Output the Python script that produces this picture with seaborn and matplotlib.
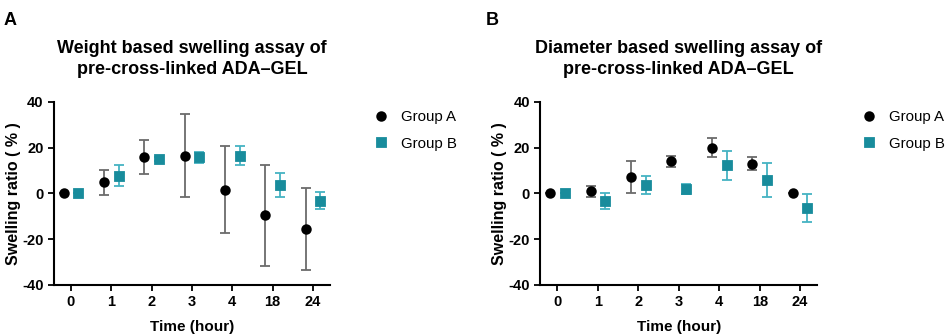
import numpy as np
import pandas as pd
import matplotlib.pyplot as plt
import seaborn as sns

# Data (mean and SD, % swelling)
times = ['0', '1', '2', '3', '4', '18', '24']

weight_a = [0, 4.9, 16.0, 16.5, 1.6, -9.6, -15.5]
weight_a_sd = [0, 5.4, 7.4, 18.0, 19.0, 22.0, 18.0]
weight_b = [0, 7.8, 15.0, 15.8, 16.5, 3.5, -3.2]
weight_b_sd = [0, 4.5, 0.8, 2.4, 4.0, 5.2, 3.8]

diam_a = [0, 0.9, 7.0, 14.0, 20.0, 12.9, 0]
diam_a_sd = [0, 2.5, 7.0, 2.4, 4.1, 2.9, 0]
diam_b = [0, -3.5, 3.7, 1.9, 12.2, 6.0, -6.3]
diam_b_sd = [0, 3.5, 3.9, 2.2, 6.3, 7.4, 6.1]

titles = ['Weight based swelling assay of\npre-cross-linked ADA\u2013GEL',
          'Diameter based swelling assay of\npre-cross-linked ADA\u2013GEL']

sns.set_style('ticks')
plt.rcParams['font.family'] = ['Liberation Sans', 'DejaVu Sans']
plt.rcParams['font.weight'] = 'bold'
plt.rcParams['axes.unicode_minus'] = False
for k in ['text.color', 'axes.labelcolor', 'xtick.color', 'ytick.color', 'axes.edgecolor']:
    plt.rcParams[k] = 'black'

col_a = 'black'
col_a_err = '#6b6b6b'
col_b = '#188c9c'
col_b_err = '#45b3c3'
dodge = 0.36

fig = plt.figure(figsize=(9.48, 3.36), dpi=100)
axes = [fig.add_axes([0.057, 0.152, 0.291, 0.545]),
        fig.add_axes([0.570, 0.152, 0.292, 0.545])]

panels = [(weight_a, weight_a_sd, weight_b, weight_b_sd),
          (diam_a, diam_a_sd, diam_b, diam_b_sd)]

for ax, (a, asd, b, bsd), title in zip(axes, panels, titles):
    df = pd.DataFrame({
        'time': times * 2,
        'ratio': a + b,
        'group': ['Group A'] * len(times) + ['Group B'] * len(times),
    })
    pos = np.arange(len(times))
    ax.errorbar(pos - dodge / 2, a, yerr=asd, fmt='none', ecolor=col_a_err,
                elinewidth=1.3, capsize=3.5, capthick=1.3, zorder=1)
    ax.errorbar(pos + dodge / 2, b, yerr=bsd, fmt='none', ecolor=col_b_err,
                elinewidth=1.3, capsize=3.5, capthick=1.3, zorder=1)
    sns.pointplot(data=df, x='time', y='ratio', hue='group', order=times,
                  dodge=dodge, linestyle='none', markers=['o', 's'],
                  palette=[col_a, col_b], markersize=5.5, errorbar=None,
                  ax=ax, zorder=3)
    ax.set_xlim(-0.42, 6.42)
    ax.set_ylim(-40, 40)
    ax.set_yticks([-40, -20, 0, 20, 40])
    ax.set_xlabel('Time (hour)', fontsize=11, fontweight='bold', labelpad=8)
    ax.set_ylabel('Swelling ratio ( % )', fontsize=11.5, fontweight='bold', labelpad=1)
    ax.set_title(title, fontsize=13, fontweight='bold', pad=20, linespacing=1.3)
    ax.tick_params(labelsize=10.5, width=1.3, length=4)
    for lbl in ax.get_xticklabels() + ax.get_yticklabels():
        lbl.set_fontweight('bold')
    for s in ['left', 'bottom']:
        ax.spines[s].set_linewidth(1.5)
    sns.despine(ax=ax)
    leg = ax.legend(loc='upper left', bbox_to_anchor=(1.11, 1.03), frameon=False,
                    fontsize=10.8, handletextpad=0.85, labelspacing=0.85,
                    handlelength=1.0)
    for t in leg.get_texts():
        t.set_fontweight('normal')

fig.text(0.004, 0.965, 'A', fontsize=13, fontweight='bold', va='top')
fig.text(0.512, 0.965, 'B', fontsize=13, fontweight='bold', va='top')

fig.savefig('out.png', dpi=100)
